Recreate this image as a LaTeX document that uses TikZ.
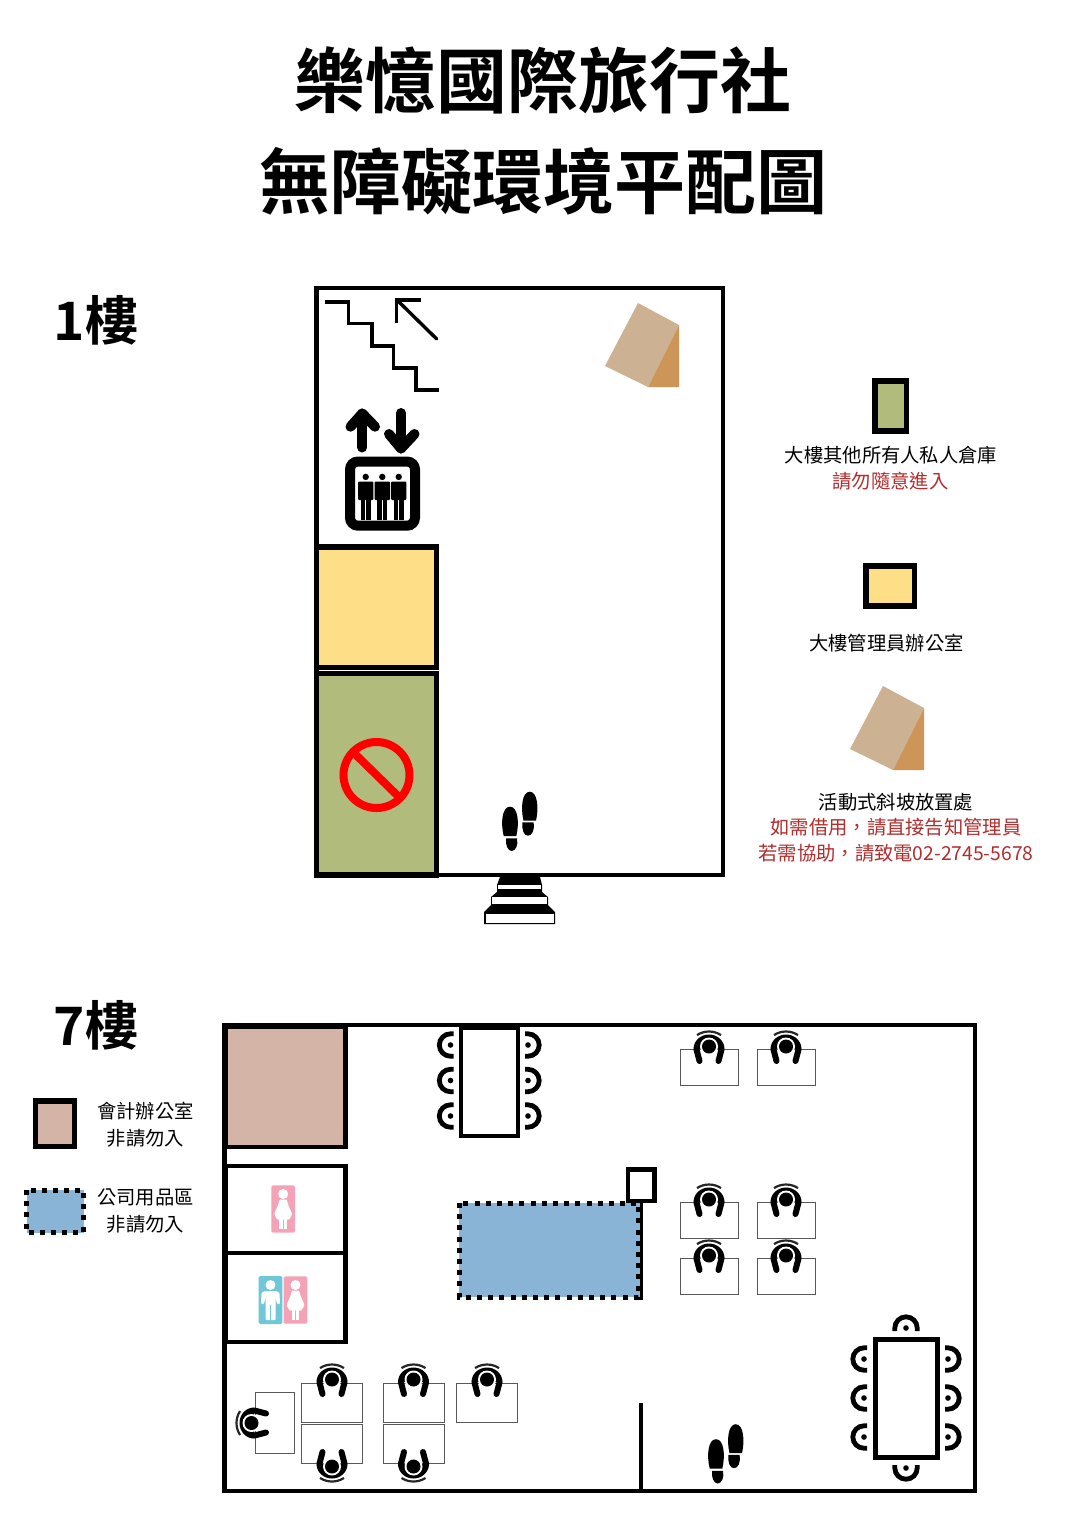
\documentclass[tikz,border=0pt]{standalone}
\usepackage{fontspec}
\setmainfont{Noto Sans CJK TC}[BoldFont={Noto Sans CJK TC Bold}]
\definecolor{roomgreen}{HTML}{B1BC7C}
\definecolor{roomyellow}{HTML}{FFDE88}
\definecolor{roomtan}{HTML}{D4B4A6}
\definecolor{roomblue}{HTML}{8AB4D6}
\definecolor{rampface}{HTML}{CDB193}
\definecolor{rampside}{HTML}{CD9558}
\definecolor{wcpink}{HTML}{F4A3B7}
\definecolor{wcteal}{HTML}{6FC8D8}
\definecolor{notered}{HTML}{B22D2D}
\tikzset{
    wall/.style = {draw=black, line width=4.6pt},
    dashwall/.style = {draw=black, line width=5pt, dash pattern=on 5pt off 6.2pt},
    desk/.style = {draw=black!65, line width=1pt, fill=white},
    titletext/.style = {font=\fontsize{71}{80}\selectfont\bfseries, inner sep=0pt},
    floortext/.style = {font=\fontsize{53}{60}\selectfont\bfseries, inner sep=0pt},
    notetext/.style = {font=\fontsize{19.3}{24}\selectfont, inner sep=0pt},
    rednote/.style = {notetext, text=notered},
    ramp/.pic = {
        \fill[rampface] (-33,-42) -- (8,-20) -- (-23,42) -- (-66,21) -- cycle;
        \fill[rampside] (8,-20) -- (8,42) -- (-23,42) -- cycle;
    },
    seated/.pic = {
        \draw[black!85, line width=2.2pt] (0,7.5) ++(237:22) arc (237:303:22);
        \fill[black] (-15.5,3) arc (180:360:15.5 and 14.5) -- cycle;
        \draw[black, line width=6pt, line cap=round] (-12.5,3.5) -- (-9.5,15);
        \draw[black, line width=6pt, line cap=round] (12.5,3.5) -- (9.5,15);
        \fill[white] (0,0.5) circle (9);
        \fill[black] (0,0.5) circle (7);
    },
    stool/.pic = {
        \draw[black, line width=4.8pt] (3,-11.2) -- (0,-11.2) arc (270:90:11.2) -- (3,11.2);
        \fill[black] (0,0) circle (2.8);
    },
    footpair/.pic = {
        \fill[black] (13.5,0.7) .. controls (10.5,-12) and (12,-28.3) .. (19.7,-28.3)
            .. controls (27.5,-28.3) and (29,-12) .. (26,0.7) -- cycle;
        \fill[black] (12.5,2.3) -- (23.5,2.3) .. controls (25,10) and (22,15.7) .. (18,15.7)
            .. controls (14,15.7) and (11.5,10) .. (12.5,2.3) -- cycle;
        \fill[black] (-6.3,16) .. controls (-9.5,3) and (-8,-13.3) .. (0,-13.3)
            .. controls (8,-13.3) and (9.5,3) .. (6.3,16) -- cycle;
        \fill[black] (-3.8,18.3) -- (7,18.3) .. controls (8.5,25) and (5.5,31) .. (1.7,31)
            .. controls (-2,31) and (-5,25) .. (-3.8,18.3) -- cycle;
    },
    wcwoman/.pic = {
        \fill[wcpink, rounded corners=1.5pt] (-11.8,-23.7) rectangle (11.8,23.7);
        \fill[white] (0,-15) circle (5);
        \fill[white, rounded corners=0.8pt] (-3.5,-9.5) -- (3.5,-9.5) -- (5.5,-3) -- (9,5) -- (6,10.5) -- (-6,10.5) -- (-9,5) -- (-5.5,-3) -- cycle;
        \fill[white] (-3.9,9) rectangle (-0.7,20);
        \fill[white] (0.7,9) rectangle (3.9,20);
    },
    wcman/.pic = {
        \fill[wcteal, rounded corners=1.5pt] (-11.8,-24) rectangle (11.8,24);
        \fill[white] (0,-15) circle (5);
        \fill[white, rounded corners=1pt] (-6,-9) -- (6,-9) -- (9,-7) -- (9.5,4) -- (6.5,4) -- (5,-3) -- (5,20) -- (-5,20) -- (-5,-3) -- (-6.5,4) -- (-9.5,4) -- (-9,-7) -- cycle;
        \fill[wcteal] (-0.6,5) rectangle (0.6,21);
    },
    rider/.pic = {
        \fill[black] (0,-4.6) circle (3.2);
        \fill[black, rounded corners=1pt] (-7.7,0) rectangle (7.7,18.5);
        \fill[black] (-5,18) rectangle (-0.6,38);
        \fill[black] (0.6,18) rectangle (5,38);
    },
}
\begin{document}
\begin{tikzpicture}[x=1pt, y=-1pt]
    \useasboundingbox (0,0) rectangle (1086,1536);
    \fill[white] (0,0) rectangle (1086,1536);
    % title
    \node[titletext] (title1) at (543,80) {樂憶國際旅行社};
    \node[titletext] (title2) at (543,181) {無障礙環境平配圖};
    \node[floortext] (floor1) at (96,320) {1樓};
    \node[floortext] (floor7) at (96,1025) {7樓};

    % 1st floor
    \fill[roomyellow] (317,547) rectangle (437,667.5);
    \fill[roomgreen] (317,673) rectangle (437,875);
    \draw[wall] (316.5,288) rectangle (723,875);
    \draw[wall, line width=5.2pt] (316.5,547) rectangle (436.8,667.5);
    \draw[wall, line width=5.2pt] (316.5,673.5) rectangle (436.8,875);
    \draw[red, line width=8pt] (376.5,775) circle (33);
    \draw[red, line width=8pt] (353,752) -- (400,798);
    \pic at (671,345) {ramp};
    % stairs
    \draw[line width=3.6pt] (325,301.7) -- (348.3,301.7) -- (348.3,323.3) -- (371.7,323.3) -- (371.7,346) -- (393.3,346) -- (393.3,367.7) -- (416,367.7) -- (416,390) -- (439.3,390);
    \draw[line width=3.4pt, line cap=round] (436.7,339) -- (396.5,299.5);
    \draw[line width=3.4pt] (420.7,300) -- (396.5,300) -- (396.5,323.3);
    % lift
    \draw[line width=10pt, line cap=round, line join=round] (362.3,447.5) -- (362.3,413.5);
    \draw[line width=10pt, line cap=round, line join=round] (350.5,426.7) -- (362.3,413.5) -- (375,426.7);
    \draw[line width=10pt, line cap=round, line join=round] (401,413) -- (401,448.5);
    \draw[line width=10pt, line cap=round, line join=round] (389,434) -- (401,448.5) -- (414.5,434);
    \draw[line width=10pt, rounded corners=8pt] (350,461.5) rectangle (415,525.7);
    \foreach \px in {365.7,382.3,398.7}
        \pic at (\px,481.5) {rider};
    % entrance
    \fill[black] (500,877) -- (540,877) -- (542,885) -- (542,892) -- (548,897) -- (548,905) -- (555,912) -- (555,924) -- (484,924) -- (484,912) -- (491,905) -- (491,897) -- (497,892) -- (497,885) -- cycle;
    \fill[white] (498.3,885) rectangle (541,889.3);
    \fill[white] (492.3,897) rectangle (546.7,904);
    \fill[white] (485.5,913.5) rectangle (553.8,922.8);
    \pic at (510,820) {footpair};

    % legend of the 1st floor
    \draw[wall, line width=5.2pt, fill=roomgreen] (875,381) rectangle (906.5,431);
    \node[notetext] (note1) at (891,455) {大樓其他所有人私人倉庫};
    \node[rednote] (note2) at (890.5,481) {請勿隨意進入};
    \draw[wall, line width=5.2pt, fill=roomyellow] (866,566) rectangle (914.5,606);
    \node[notetext] (note3) at (886.5,643) {大樓管理員辦公室};
    \pic at (916,728) {ramp};
    \node[notetext] (note4) at (896,802) {活動式斜坡放置處};
    \node[rednote] (note5) at (896,827) {如需借用，請直接告知管理員};
    \node[rednote] (note6) at (896,853) {若需協助，請致電02-2745-5678};

    % 7th floor
    \draw[wall] (224.5,1025) rectangle (975,1491);
    \draw[wall, fill=roomtan] (226,1027) rectangle (345.5,1147);
    \draw[wall] (226,1166) rectangle (345.5,1253);
    \draw[wall] (226,1253) rectangle (345.5,1342);
    \draw[line width=4pt] (641,1403) -- (641,1491);
    \fill[roomblue] (459,1203) rectangle (640,1297);
    \draw[dashwall] (459,1203) rectangle (638.5,1297);
    \draw[line width=3pt] (641.7,1203) -- (641.7,1300);
    \draw[wall, fill=white] (628,1169.5) rectangle (654.5,1201);
    \pic at (283.2,1209) {wcwoman};
    \pic at (270.5,1300) {wcman};
    \pic at (295.5,1300) {wcwoman};
    \pic at (716,1452.5) {footpair};

    % tables
    \draw[line width=4.8pt] (461,1028) rectangle (518,1136);
    \foreach \sy in {1045,1080.5,1116} {
        \pic at (450.5,\sy) {stool};
        \pic[rotate=180] at (528,\sy) {stool};
    }
    \draw[line width=5pt] (875,1339) rectangle (937,1457);
    \foreach \sy in {1359,1398,1437} {
        \pic at (864,\sy) {stool};
        \pic[rotate=180] at (948,\sy) {stool};
    }
    \pic[rotate=-90] at (906,1328) {stool};
    \pic[rotate=90] at (906,1468) {stool};

    % desks
    \foreach \dx/\dy/\dw/\dh in {680/1049/58/36, 757/1049/58/36, 680/1202/58/36, 757/1202/58/36, 680/1258/58/36, 757/1258/58/36, 301/1383/61/39, 383/1383/61/39, 456/1383/61/39, 301/1424/61/39, 383/1424/61/39, 255/1392/39/61}
        \draw[desk] (\dx,\dy) rectangle ++(\dw,\dh);
    \foreach \hx/\hy in {709/1046, 786/1046, 709/1199, 786/1199, 709/1255, 786/1255, 332/1379, 413.5/1379, 487/1379}
        \pic at (\hx,\hy) {seated};
    \pic[rotate=180] at (332,1467) {seated};
    \pic[rotate=180] at (413.5,1467) {seated};
    \pic[rotate=90] at (251,1423) {seated};

    % legend of the 7th floor
    \draw[wall, line width=5.7pt, fill=roomtan] (35.5,1101) rectangle (74.5,1146.5);
    \node[notetext] (note7) at (145.5,1111) {會計辦公室};
    \node[notetext] (note8) at (145.5,1138) {非請勿入};
    \fill[roomblue] (26.5,1190) rectangle (83.5,1232.7);
    \draw[dashwall] (26.5,1190) rectangle (83.5,1232.7);
    \node[notetext] (note9) at (145.5,1197) {公司用品區};
    \node[notetext] (note10) at (145.5,1224) {非請勿入};
\end{tikzpicture}
\end{document}
